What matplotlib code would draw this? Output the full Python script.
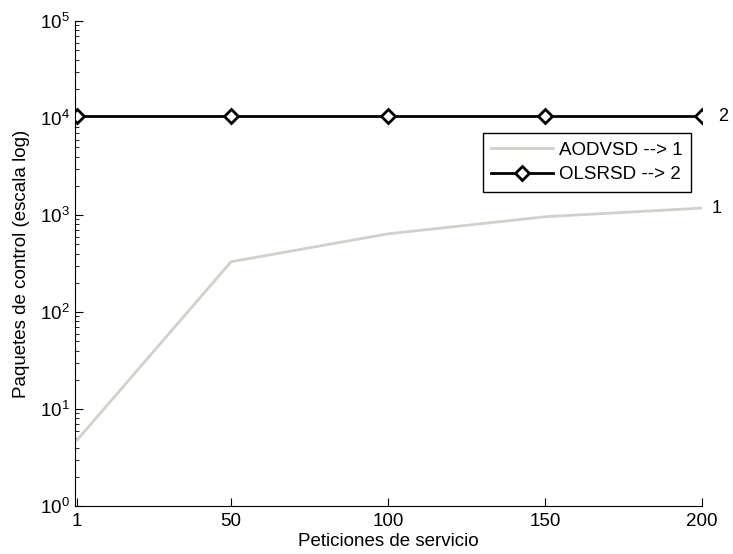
import numpy as np
import matplotlib
matplotlib.use('Agg')
from matplotlib import pyplot as plt

plt.rcParams['font.family'] = ['Liberation Sans', 'DejaVu Sans']
plt.rcParams['mathtext.fontset'] = 'custom'
plt.rcParams['mathtext.rm'] = 'Liberation Sans'

# datos
peticiones = [1, 50, 100, 150, 200]
aodvsd = [4.8, 330, 640, 960, 1180]
olsrsd = [10400, 10400, 10400, 10400, 10400]
xticks = [1, 50, 100, 150, 200]

fig = plt.figure(figsize=(7.33, 5.54), dpi=100)
ax = fig.add_axes([0.1023, 0.0866, 0.9577 - 0.1023, 0.962 - 0.0866])

ax.semilogy(peticiones, aodvsd, color='#d4d0c8', lw=2, label='AODVSD --> 1')
ax.semilogy(peticiones, olsrsd, color='black', lw=2, marker='D', ms=7,
            mfc='white', mec='black', mew=2, label='OLSRSD --> 2')

ax.text(peticiones[-1] + 3, aodvsd[-1], '1', fontsize=13, va='center')
ax.text(peticiones[-1] + 5, olsrsd[-1], '2', fontsize=13, va='center')

ax.set_xlim(0.3, 200)
ax.set_ylim(1, 1e5)
ax.set_xticks(xticks)
ax.set_xticklabels([str(t) for t in xticks])
ax.tick_params(which='both', direction='in', labelsize=13.5)
ax.tick_params(axis='x', pad=5)
ax.tick_params(which='major', length=6)
ax.tick_params(which='minor', length=3)
for s in ['top', 'right']:
    ax.spines[s].set_visible(False)

ax.set_xlabel('Peticiones de servicio', fontsize=13.5, labelpad=2)
ax.set_ylabel('Paquetes de control (escala log)', fontsize=13.5, labelpad=7)

leg = ax.legend(loc='upper right', bbox_to_anchor=(691 / 733, 1 - 133 / 554),
                bbox_transform=fig.transFigure, fontsize=13.5,
                fancybox=False, framealpha=1, edgecolor='black',
                borderpad=0.45, borderaxespad=0, handlelength=3.3,
                handletextpad=0.3, labelspacing=0.4)
leg.get_frame().set_linewidth(1)

fig.savefig('out.png', dpi=100)
